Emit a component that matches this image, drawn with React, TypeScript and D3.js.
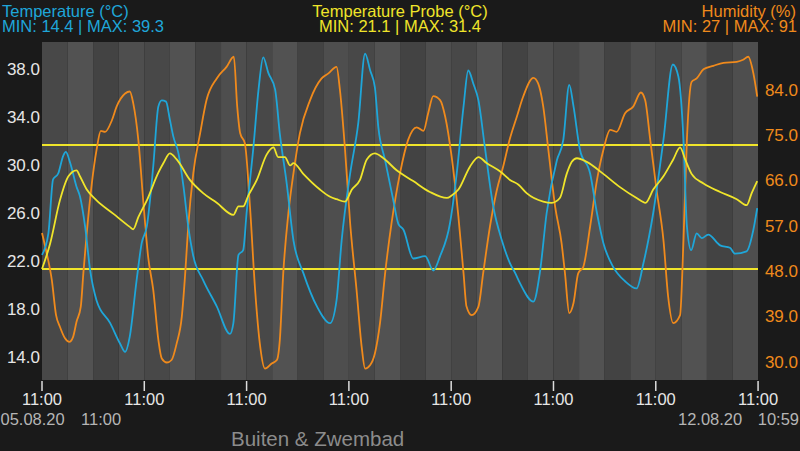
import React from "react";
import * as d3 from "d3";

// ---- data (hours since 05.08.20 11:00, value) ----
const temperature: [number, number][] = [
  [0,22.5],[1.5,24.3],[2.6,28.8],[3.8,29.3],[5.0,30.8],[5.6,31.1],[6.6,30.2],[8.1,28.2],[8.9,27.4],[10.1,24.9],[11.3,21.2],[12.8,18.7],[16.0,16.8],[18.3,15.1],[19.5,14.4],[20.6,15.7],[22.2,20.4],[23.4,23.5],[24.6,24.9],[26.1,29.9],[27.3,34.9],[28.1,35.4],[29.1,35.3],[30.0,33.8],[30.8,32.4],[32.0,31.0],[33.2,28.2],[34.3,24.9],[35.5,22.4],[37.8,20.4],[41.0,18.2],[44.1,15.9],[44.9,16.8],[46.1,22.5],[47.2,22.9],[48.0,26.0],[49.6,31.5],[50.8,36.3],[51.9,39.0],[53.1,37.7],[54.7,36.3],[55.8,32.6],[57.4,28.5],[59.0,23.7],[61.3,21.0],[64.5,18.2],[67.6,16.8],[69.1,18.7],[70.3,23.7],[72.3,29.3],[74.2,33.5],[75.8,39.3],[77.0,37.9],[78.1,36.5],[78.9,33.2],[80.5,30.4],[82.4,27.1],[83.6,25.1],[84.8,24.6],[87.1,22.2],[89.9,22.4],[91.8,21.2],[93.4,22.4],[95.7,25.1],[97.3,29.3],[98.9,34.9],[100.0,37.9],[101.2,36.8],[102.4,35.4],[103.9,31.5],[105.9,26.5],[107.9,23.7],[109.8,21.8],[111.0,21.0],[112.2,20.1],[115.3,18.6],[116.8,21.0],[118.4,26.0],[120.8,30.4],[122.3,32.1],[123.7,36.7],[124.7,34.9],[126.2,31.3],[128.6,29.3],[130.2,26.0],[131.7,23.5],[134.0,21.5],[136.8,20.3],[139.5,19.7],[141.1,21.8],[143.4,26.0],[145.8,32.1],[148.0,38.4],[149.3,37.4],[150.5,32.1],[151.3,24.9],[152.3,22.9],[153.6,24.3],[154.8,23.9],[156.3,24.2],[159.1,23.3],[161.4,23.1],[162.6,22.6],[165.3,22.8],[166.9,24.6],[167.8,26.4],
];

const probe: [number, number][] = [
  [0,21.1],[1.9,23.2],[4.2,26.8],[6.2,28.8],[8.1,29.3],[8.9,28.8],[10.5,27.7],[12.8,26.8],[16.7,25.7],[20.6,24.6],[21.4,24.4],[22.6,25.4],[24.6,26.8],[27.3,29.1],[28.5,29.9],[30.0,30.7],[31.6,30.2],[34.7,28.5],[37.8,27.4],[41.0,26.6],[44.9,25.6],[46.1,26.3],[47.2,26.3],[48.4,27.2],[50.4,28.5],[52.7,30.6],[54.3,31.2],[55.4,30.4],[57.0,30.4],[58.2,29.7],[59.0,29.9],[61.3,29.0],[65.2,27.7],[67.6,27.1],[69.1,26.9],[71.1,26.7],[72.7,27.7],[74.6,28.5],[76.2,30.2],[78.1,30.7],[80.1,30.3],[83.2,29.3],[87.1,28.4],[91.0,27.5],[95.0,27.0],[96.1,27.2],[97.7,27.7],[100.4,29.6],[102.4,30.4],[104.3,29.9],[107.5,29.2],[109.8,28.5],[111.8,28.1],[113.7,27.4],[117.6,26.7],[119.6,26.6],[121.5,27.0],[123.1,29.0],[124.3,30.0],[125.5,30.3],[127.8,30.0],[131.7,29.0],[135.6,27.9],[139.5,27.0],[141.6,26.6],[143.4,27.7],[145.8,28.8],[148.1,30.2],[149.7,31.2],[150.9,30.2],[152.4,29.0],[155.2,28.2],[159.1,27.5],[163.0,26.9],[165.3,26.4],[166.5,27.4],[167.8,28.4],
];

const humidity: [number, number][] = [
  [0,55.5],[1.1,51.5],[2.3,46.2],[3.3,39.2],[4.2,36.9],[5.4,34.6],[6.4,33.9],[7.3,34.9],[8.1,37.9],[9.1,40.9],[9.7,47.5],[10.5,55.5],[11.7,65.4],[12.8,72.0],[13.8,75.8],[14.8,75.6],[16.4,77.9],[17.5,80.6],[19.5,83.2],[20.6,83.6],[21.4,81.3],[22.6,74.0],[23.8,61.4],[24.9,50.8],[26.1,44.2],[27.3,34.3],[28.1,30.6],[29.3,29.8],[30.4,30.3],[31.6,33.6],[32.8,38.9],[33.6,47.5],[34.3,56.8],[35.5,67.4],[37.1,75.3],[38.6,81.9],[41.0,86.2],[43.3,88.5],[45.0,90.5],[45.8,80.6],[46.5,75.3],[47.6,73.3],[48.8,60.7],[50.0,44.2],[51.2,32.9],[52.3,28.6],[53.9,29.6],[55.1,30.3],[55.8,34.3],[56.6,47.5],[57.8,59.4],[59.0,67.4],[60.5,75.3],[62.9,81.9],[65.6,86.2],[67.2,87.2],[69.1,88.5],[69.9,83.9],[71.1,72.0],[72.3,57.4],[73.8,44.2],[75.0,32.9],[75.8,28.6],[77.0,29.3],[78.1,31.6],[79.3,37.6],[80.5,47.5],[82.0,57.4],[84.0,67.4],[85.9,74.0],[87.9,76.5],[89.5,75.8],[90.6,79.3],[91.8,82.7],[93.4,81.9],[94.6,78.6],[96.1,70.7],[97.7,58.7],[98.9,47.5],[99.6,40.9],[100.8,39.2],[102.4,40.9],[103.5,47.5],[105.1,56.8],[106.7,64.0],[108.2,68.7],[109.8,74.3],[111.4,78.6],[112.9,82.6],[115.3,86.3],[116.4,85.2],[117.6,80.6],[118.8,72.0],[120.4,60.7],[121.9,53.5],[122.7,47.5],[123.7,39.6],[124.7,41.6],[125.8,47.5],[127.0,48.8],[128.6,56.8],[130.2,66.0],[131.7,72.0],[133.3,76.0],[134.8,75.6],[136.8,79.3],[138.7,80.6],[140.5,83.4],[141.5,81.9],[142.7,74.0],[144.2,64.0],[145.8,54.1],[146.9,42.9],[148.1,37.6],[149.7,39.2],[150.5,54.1],[151.3,74.0],[152.4,85.5],[153.6,86.2],[155.2,88.0],[157.5,88.7],[159.9,89.3],[163.0,89.5],[164.5,89.9],[165.7,90.5],[166.9,87.2],[167.8,82.6],
];

const leftTicks = [14, 18, 22, 26, 30, 34, 38];
const rightTicks = [30, 39, 48, 57, 66, 75, 84];
const probeMin = 21.1;
const probeMax = 31.4;
const headerTemp = ["Temperature (°C)", "MIN: 14.4 | MAX: 39.3"];
const headerProbe = ["Temperature Probe (°C)", "MIN: 21.1 | MAX: 31.4"];
const headerHum = ["Humidity (%)", "MIN: 27 | MAX: 91"];
const title = "Buiten & Zwembad";

const start = new Date(2020, 7, 5, 11, 0);
const end = new Date(2020, 7, 12, 10, 59);

const BLUE = "#1fa6d9";
const YELLOW = "#f0e52a";
const ORANGE = "#f08a1c";
const FONT = "'Liberation Sans', Arial, Helvetica, sans-serif";

export default function App() {
  const L = 42, R = 758, T = 42, B = 380;
  const x = d3.scaleTime().domain([start, end]).range([L, R]);
  const yTemp = d3.scaleLinear().domain([14, 38]).range([356.7, 69.3]);
  const yProbe = d3.scaleLinear().domain([probeMin, probeMax]).range([269, 145]);
  const yHum = d3.scaleLinear().domain([30, 84]).range([361.5, 89.5]);
  const toDate = (h: number) => new Date(start.getTime() + h * 3600e3);

  const mk = (ys: d3.ScaleLinear<number, number>) =>
    d3.line<[number, number]>()
      .x((d) => x(toDate(d[0])))
      .y((d) => ys(d[1]))
      .curve(d3.curveMonotoneX);

  // 6-hour stripes
  const stripes = d3.range(0, 28).map((i) => ({
    x0: x(d3.timeHour.offset(start, i * 6)),
    x1: Math.min(R, x(d3.timeHour.offset(start, (i + 1) * 6))),
    shade: ["#484848", "#525252", "#434343", "#4e4e4e"][i % 4],
  }));
  const dayTicks = d3.range(0, 8).map((i) => d3.timeDay.offset(start, i));

  return (
    <svg width={800} height={451} style={{ position: "fixed", left: 0, top: 0 }} fontFamily={FONT}>
      <rect x={0} y={0} width={800} height={451} fill="#1a1a1a" />
      {stripes.map((s, i) => (
        <rect key={i} x={s.x0} y={T} width={s.x1 - s.x0} height={B - T} fill={s.shade} />
      ))}
      {/* probe min / max lines */}
      <line x1={L} x2={R} y1={yProbe(probeMax)} y2={yProbe(probeMax)} stroke={YELLOW} strokeWidth={2} />
      <line x1={L} x2={R} y1={yProbe(probeMin)} y2={yProbe(probeMin)} stroke={YELLOW} strokeWidth={2} />
      <path d={mk(yHum)(humidity) || ""} fill="none" stroke={ORANGE} strokeWidth={1.8} />
      <path d={mk(yTemp)(temperature) || ""} fill="none" stroke={BLUE} strokeWidth={1.8} />
      <path d={mk(yProbe)(probe) || ""} fill="none" stroke={YELLOW} strokeWidth={1.8} />

      {/* left axis */}
      {leftTicks.map((v) => (
        <text key={v} x={40} y={yTemp(v) + 6} textAnchor="end" fontSize={17} fill="#e6e6e6">
          {v.toFixed(1)}
        </text>
      ))}
      {/* right axis */}
      {rightTicks.map((v) => (
        <text key={v} x={798} y={yHum(v) + 6} textAnchor="end" fontSize={17} fill={ORANGE}>
          {v.toFixed(1)}
        </text>
      ))}
      {/* bottom axis */}
      {dayTicks.map((d, i) => (
        <g key={i}>
          <line x1={x(d)} x2={x(d)} y1={381} y2={391} stroke="#dddddd" strokeWidth={1.5} />
          <text x={x(d)} y={405} textAnchor="middle" fontSize={16.5} fill="#e6e6e6">
            {d3.timeFormat("%H:%M")(d)}
          </text>
        </g>
      ))}
      <text x={0.5} y={425} fontSize={16.5} fill="#b5b5b5">{d3.timeFormat("%d.%m.%y")(start)}</text>
      <text x={81} y={425} fontSize={16.5} fill="#b5b5b5">{d3.timeFormat("%H:%M")(start)}</text>
      <text x={678} y={425} fontSize={16.5} fill="#b5b5b5">{d3.timeFormat("%d.%m.%y")(end)}</text>
      <text x={799} y={425} textAnchor="end" fontSize={16.5} fill="#b5b5b5">{d3.timeFormat("%H:%M")(end)}</text>

      {/* headers */}
      <text x={2} y={17} fontSize={16.5} fill={BLUE}>{headerTemp[0]}</text>
      <text x={2} y={32} fontSize={16.5} fill={BLUE}>{headerTemp[1]}</text>
      <text x={400} y={17} textAnchor="middle" fontSize={16.5} fill={YELLOW}>{headerProbe[0]}</text>
      <text x={400} y={32} textAnchor="middle" fontSize={16.5} fill={YELLOW}>{headerProbe[1]}</text>
      <text x={796} y={17} textAnchor="end" fontSize={16.5} fill={ORANGE}>{headerHum[0]}</text>
      <text x={797} y={32} textAnchor="end" fontSize={16.5} fill={ORANGE}>{headerHum[1]}</text>

      <text x={231} y={446} fontSize={20.5} fill="#8c8c8c">{title}</text>
    </svg>
  );
}
